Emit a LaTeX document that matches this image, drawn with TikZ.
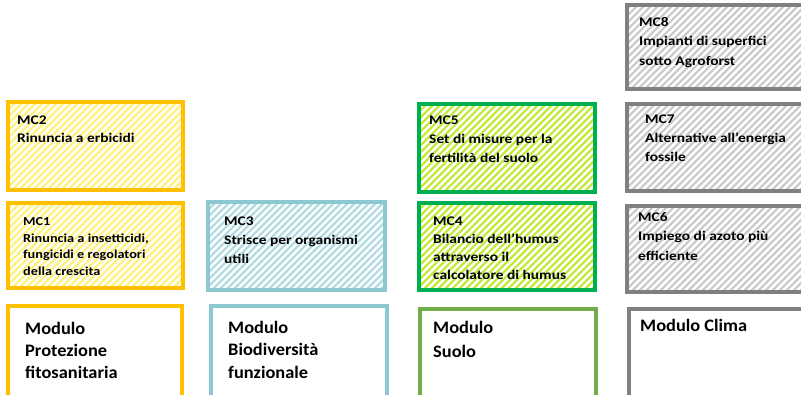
\documentclass[tikz,border=0pt]{standalone}
\usepackage{fontspec}
\setmainfont{Carlito}[FakeStretch=1.17]
\newfontfamily\modfont{Carlito}[FakeStretch=1.05]
\definecolor{yellowB}{HTML}{FFC000}
\definecolor{yellowH}{HTML}{FFF27F}
\definecolor{tealB}{HTML}{8CC8CF}
\definecolor{tealH}{HTML}{B2DCE1}
\definecolor{greenB}{HTML}{00B050}
\definecolor{greenH}{HTML}{C4EA3E}
\definecolor{grayB}{HTML}{808080}
\definecolor{grayH}{HTML}{CCCCCC}
\definecolor{suoloB}{HTML}{70AD47}
\newcommand\myhatch[5]{%
  \begin{scope}
    \clip (#1,#2) rectangle (#3,#4);
    \foreach \k in {0,...,45} {
      \draw[#5, line width=2.4pt] (#1-110+\k*7, #4+2) -- ++(116,-116);
    }
  \end{scope}}
\tikzset{
  mcbox/.style={line width=4pt},
  mctext/.style={anchor=base west, inner sep=0pt, align=left, font=\bfseries\fontsize{13.2}{19}\selectfont},
  modtext/.style={anchor=base west, inner sep=0pt, align=left, font=\modfont\bfseries\fontsize{17.5}{22}\selectfont},
}
\begin{document}
\begin{tikzpicture}[x=1pt,y=-1pt]
\useasboundingbox (0,0) rectangle (801,394);
\clip (0,0) rectangle (801,394);
\fill[white] (0,0) rectangle (801,394);

% column 1: yellow
\myhatch{8}{102}{183}{190}{yellowH}
\draw[mcbox, yellowB] (8,102) rectangle (183,190);
\myhatch{8}{203}{183}{288}{yellowH}
\draw[mcbox, yellowB] (8,203) rectangle (183,288);
\draw[mcbox, yellowB] (8,306) rectangle (182,400);
\node[mctext, font=\bfseries\fontsize{13.2}{18}\selectfont] (mc2) at (17,142.3) {MC2\\Rinuncia a erbicidi};
\node[mctext, font=\bfseries\fontsize{12.2}{16.5}\selectfont] (mc1) at (23,275.2) {MC1\\Rinuncia a insetticidi,\\fungicidi e regolatori\\della crescita};
\node[modtext] (modprot) at (25,378) {Modulo\\Protezione\\fitosanitaria};

% column 2: teal
\myhatch{208}{202}{385}{290}{tealH}
\draw[mcbox, tealB] (208,202) rectangle (385,290);
\draw[mcbox, tealB] (211,306) rectangle (387,400);
\node[mctext] (mc3) at (224,263.7) {MC3\\Strisce per organismi\\utili};
\node[modtext, font=\modfont\bfseries\fontsize{17.5}{22.5}\selectfont] (modbio) at (228,378.3) {Modulo\\Biodiversità\\funzionale};

% column 3: green
\myhatch{419}{104}{595}{192}{greenH}
\draw[mcbox, greenB] (419,104) rectangle (595,192);
\myhatch{419}{203}{595}{290}{greenH}
\draw[mcbox, greenB] (419,203) rectangle (595,290);
\draw[mcbox, suoloB, line width=3.6pt] (420,309) rectangle (596,400);
\node[mctext] (mc5) at (429,162.3) {MC5\\Set di misure per la\\fertilità del suolo};
\node[mctext, font=\bfseries\fontsize{13.2}{18}\selectfont] (mc4) at (433,279.7) {MC4\\Bilancio dell’humus\\attraverso il\\calcolatore di humus};
\node[modtext, font=\modfont\bfseries\fontsize{17.5}{24}\selectfont] (modsuolo) at (433,357) {Modulo\\Suolo};

% column 4: gray
\myhatch{627}{5}{810}{89}{grayH}
\draw[mcbox, grayB] (627,5) rectangle (810,89);
\myhatch{627}{104}{810}{191}{grayH}
\draw[mcbox, grayB] (627,104) rectangle (810,191);
\myhatch{627}{206}{810}{292}{grayH}
\draw[mcbox, grayB] (627,206) rectangle (810,292);
\draw[mcbox, grayB] (629,309) rectangle (810,400);
\node[mctext, font=\bfseries\fontsize{13.2}{19.2}\selectfont] (mc8) at (639,65.1) {MC8\\Impianti di superfici\\sotto Agroforst};
\node[mctext] (mc7) at (645,161.3) {MC7\\Alternative all’energia\\fossile};
\node[mctext, font=\bfseries\fontsize{13.2}{19.2}\selectfont] (mc6) at (638,260.1) {MC6\\Impiego di azoto più\\efficiente};
\node[modtext] (modclima) at (640,331.3) {Modulo Clima};
\end{tikzpicture}
\end{document}
